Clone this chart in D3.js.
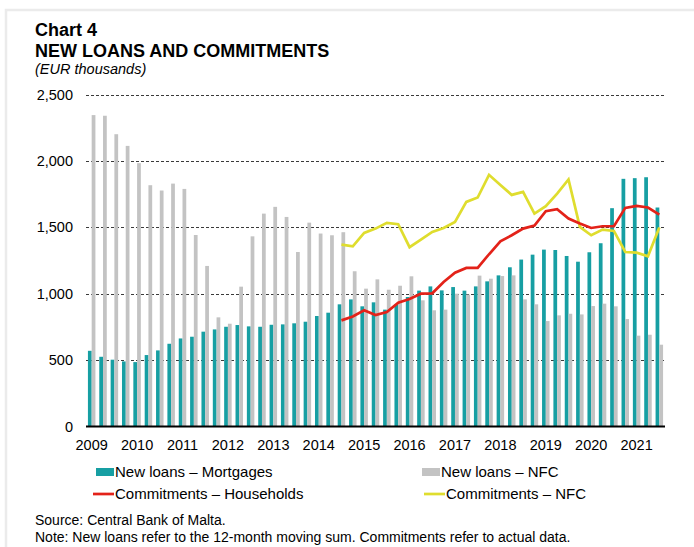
<!DOCTYPE html>
<html>
<head>
<meta charset="utf-8">
<script src="https://cdn.jsdelivr.net/npm/d3@7"></script>
<style>
  body { margin: 0; background: #fff; }
  text { font-family: "Liberation Sans", Arial, sans-serif; fill: #000; }
</style>
</head>
<body>
<div id="chart"></div>
<script>
// quarters 2009Q1 .. 2021Q3
const years = d3.range(2009, 2022);
const quarters = [];
years.forEach(y => [1, 2, 3, 4].forEach(q => { if (y < 2021 || q <= 3) quarters.push(y + "Q" + q); }));

const mortgages = [570, 525, 503, 490, 485, 538, 573, 623, 663, 676, 714, 731,
  751, 764, 754, 751, 766, 769, 777, 789, 832, 857, 920, 957,
  905, 935, 880, 920, 975, 1023, 1055, 1025, 1050, 1023, 1055, 1093,
  1138, 1199, 1257, 1294, 1332, 1329, 1284, 1241, 1312, 1380, 1644, 1865,
  1870, 1877, 1649];
const nfcLoans = [2345, 2340, 2201, 2113, 1983, 1817, 1777, 1829, 1789, 1442, 1209, 822,
  774, 1053, 1432, 1603, 1654, 1578, 1314, 1535, 1453, 1440, 1463, 1169,
  1038, 1108, 1030, 1060, 1131, 950, 875, 880, 1000, 993, 1136, 1113,
  1133, 1138, 957, 920, 794, 837, 849, 844, 907, 925, 905, 809,
  684, 691, 616];
// commitments start in 2014Q3
const commitStart = "2014Q3";
const commitHH = [799, 829, 875, 839, 862, 932, 960, 1000, 1003, 1088, 1158, 1194,
  1194, 1297, 1395, 1440, 1490, 1513, 1621, 1636, 1566, 1528, 1495, 1508,
  1508, 1646, 1661, 1649, 1596];
const commitNFC = [1370, 1357, 1458, 1490, 1533, 1523, 1350, 1407, 1465, 1495, 1540, 1691,
  1724, 1895, 1819, 1744, 1767, 1603, 1659, 1754, 1860, 1503, 1440, 1483,
  1473, 1314, 1309, 1282, 1498];
const yTicks = [0, 500, 1000, 1500, 2000, 2500];

const width = 694, height = 547;
const teal = "#179fa3", grey = "#c3c3c3", red = "#e32219", yellow = "#dfdd2e";

const svg = d3.select("#chart").append("svg")
  .attr("width", width).attr("height", height);

// frame
svg.append("path")
  .attr("d", `M6,${height} V10 H${width}`)
  .attr("fill", "none").attr("stroke", "#ebebeb").attr("stroke-width", 2.5);

svg.append("text").attr("x", 35).attr("y", 36)
  .style("font-size", "18px").style("font-weight", "bold").text("Chart 4");
svg.append("text").attr("x", 35).attr("y", 57)
  .style("font-size", "18px").style("font-weight", "bold").text("NEW LOANS AND COMMITMENTS");
svg.append("text").attr("x", 35).attr("y", 74)
  .style("font-size", "14.5px").style("font-style", "italic").text("(EUR thousands)");

const x = d3.scaleBand().domain(quarters).range([86, 665])
  .paddingInner(0.34).paddingOuter(0.17);
const xs = d3.scaleBand().domain(["m", "n"]).range([0, x.bandwidth()]);
const y = d3.scaleLinear().domain([0, 2500]).range([426.5, 94.5]);

// grid
svg.append("g").selectAll("line").data(yTicks.filter(d => d > 0)).join("line")
  .attr("x1", 86).attr("x2", 665)
  .attr("y1", d => Math.round(y(d)) + 0.5).attr("y2", d => Math.round(y(d)) + 0.5)
  .attr("stroke", "#3a3a3a").attr("stroke-dasharray", "3,2");

svg.append("g").selectAll("text").data(yTicks).join("text")
  .attr("x", 73).attr("y", d => y(d)).attr("dy", "0.35em")
  .attr("text-anchor", "end").style("font-size", "14.5px")
  .text(d => d3.format(",")(d));

// bars
const bars = svg.append("g");
bars.selectAll("rect.m").data(mortgages).join("rect").attr("class", "m")
  .attr("x", (d, i) => x(quarters[i]) + xs("m")).attr("width", xs.bandwidth())
  .attr("y", d => y(d)).attr("height", d => y(0) - y(d)).attr("fill", teal);
bars.selectAll("rect.n").data(nfcLoans).join("rect").attr("class", "n")
  .attr("x", (d, i) => x(quarters[i]) + xs("n")).attr("width", xs.bandwidth())
  .attr("y", d => y(d)).attr("height", d => y(0) - y(d)).attr("fill", grey);

// x axis line
svg.append("line").attr("x1", 86).attr("x2", 665)
  .attr("y1", y(0)).attr("y2", y(0)).attr("stroke", "#000").attr("stroke-width", 2);

svg.append("g").selectAll("text").data(years).join("text")
  .attr("x", d => x(d + "Q1") + x.bandwidth() / 2).attr("y", 450)
  .attr("text-anchor", "middle").style("font-size", "14.5px").text(d => d);

// lines
const off = quarters.indexOf(commitStart);
const line = d3.line()
  .x((d, i) => x(quarters[off + i]) + x.bandwidth() / 2)
  .y(d => y(d));
svg.append("path").datum(commitNFC).attr("d", line)
  .attr("fill", "none").attr("stroke", yellow).attr("stroke-width", 2.7);
svg.append("path").datum(commitHH).attr("d", line)
  .attr("fill", "none").attr("stroke", red).attr("stroke-width", 2.7);

// legend
const legend = [
  {name: "New loans \u2013 Mortgages", type: "bar", color: teal, lx: 96, ly: 472},
  {name: "New loans \u2013 NFC", type: "bar", color: grey, lx: 422, ly: 472},
  {name: "Commitments \u2013 Households", type: "line", color: red, lx: 93, ly: 494},
  {name: "Commitments \u2013 NFC", type: "line", color: yellow, lx: 424, ly: 494}
];
const lg = svg.append("g").selectAll("g").data(legend).join("g")
  .attr("transform", d => `translate(${d.lx},${d.ly})`);
lg.filter(d => d.type === "bar").append("rect")
  .attr("x", 0).attr("y", -4).attr("width", 18).attr("height", 8).attr("fill", d => d.color);
lg.filter(d => d.type === "line").append("line")
  .attr("x1", 0).attr("x2", 21).attr("y1", 0).attr("y2", 0)
  .attr("stroke", d => d.color).attr("stroke-width", 2.7);
lg.append("text").attr("x", d => d.type === "bar" ? 19 : 22).attr("dy", "0.35em")
  .style("font-size", "15px").text(d => d.name);

svg.append("text").attr("x", 35).attr("y", 525).style("font-size", "14px")
  .text("Source: Central Bank of Malta.");
svg.append("text").attr("x", 35).attr("y", 542).style("font-size", "14px")
  .text("Note: New loans refer to the 12-month moving sum. Commitments refer to actual data.");
</script>
</body>
</html>
